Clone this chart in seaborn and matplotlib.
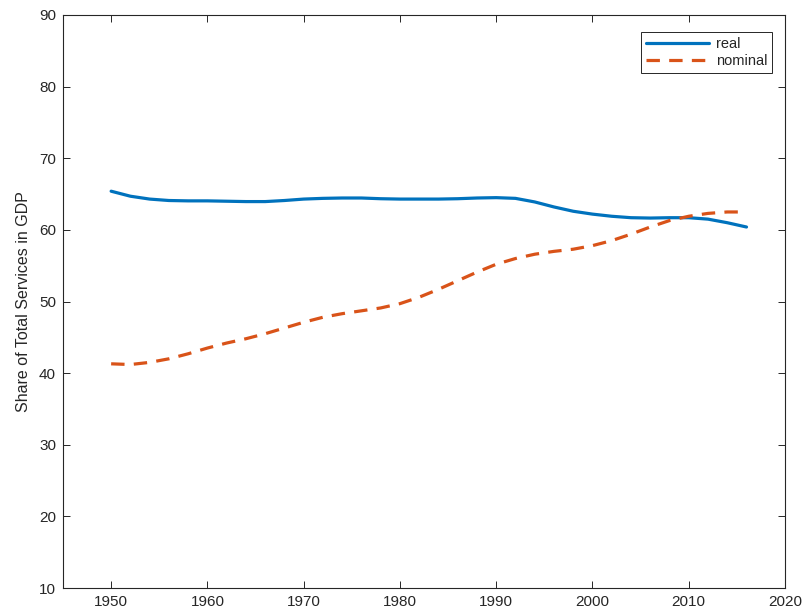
import numpy as np
import pandas as pd
import matplotlib
matplotlib.use("Agg")
import matplotlib.pyplot as plt
import seaborn as sns

years = [1950, 1952, 1954, 1956, 1958, 1960, 1962, 1964, 1966, 1968, 1970, 1972,
         1974, 1976, 1978, 1980, 1982, 1984, 1986, 1988, 1990, 1992, 1994, 1996,
         1998, 2000, 2002, 2004, 2006, 2008, 2010, 2012, 2014, 2016]

real = [65.4, 64.7, 64.3, 64.1, 64.05, 64.05, 64.0, 63.95, 63.95, 64.1, 64.3, 64.4,
        64.45, 64.45, 64.35, 64.3, 64.3, 64.3, 64.35, 64.45, 64.5, 64.4, 63.9, 63.2,
        62.6, 62.2, 61.9, 61.7, 61.65, 61.7, 61.7, 61.5, 61.0, 60.4]

nominal = [41.3, 41.2, 41.5, 42.0, 42.7, 43.5, 44.2, 44.8, 45.5, 46.3, 47.1, 47.8,
           48.3, 48.7, 49.1, 49.7, 50.6, 51.7, 52.9, 54.1, 55.2, 56.0, 56.6, 57.0,
           57.3, 57.8, 58.5, 59.4, 60.4, 61.3, 61.9, 62.3, 62.5, 62.5]

y_label = "Share of Total Services in GDP"
x_ticks = [1950, 1960, 1970, 1980, 1990, 2000, 2010, 2020]
y_ticks = [10, 20, 30, 40, 50, 60, 70, 80, 90]

df = pd.concat([
    pd.DataFrame({"year": years, "share": real, "series": "real"}),
    pd.DataFrame({"year": years, "share": nominal, "series": "nominal"}),
])

sns.set_theme(style="white")
plt.rcParams["font.family"] = ["Liberation Sans", "DejaVu Sans"]

fig = plt.figure(figsize=(8.07, 6.16), dpi=100)
ax = fig.add_axes([63 / 807, 28 / 616, (785 - 63) / 807, (588 - 15) / 616])

sns.lineplot(data=df, x="year", y="share", hue="series", style="series",
             palette={"real": "#0072BD", "nominal": "#D95319"},
             dashes={"real": "", "nominal": (4.2, 2.9)},
             linewidth=2.3, ax=ax, sort=False)

ax.set_xlim(1945, 2020)
ax.set_ylim(10, 90)
ax.set_xticks(x_ticks)
ax.set_yticks(y_ticks)
ax.set_xlabel("")
ax.set_ylabel(y_label, fontsize=11.5, color="#262626", labelpad=6)

for s in ax.spines.values():
    s.set_visible(True)
    s.set_color("#262626")
    s.set_linewidth(0.8)

ax.tick_params(direction="in", length=5, width=0.7, colors="#262626",
               labelsize=11, top=True, right=True, bottom=True, left=True,
               labeltop=False, labelright=False, pad=5)

leg = ax.legend(loc="upper right", bbox_to_anchor=(0.9865, 0.975), frameon=True,
                fancybox=False, edgecolor="#262626", framealpha=1,
                fontsize=10.5, handlelength=4.3, handletextpad=0.45,
                borderpad=0.35, labelspacing=0.2, borderaxespad=0.2)
leg.get_frame().set_linewidth(0.7)
for t in leg.get_texts():
    t.set_color("#262626")

fig.savefig("out.png", dpi=100)
